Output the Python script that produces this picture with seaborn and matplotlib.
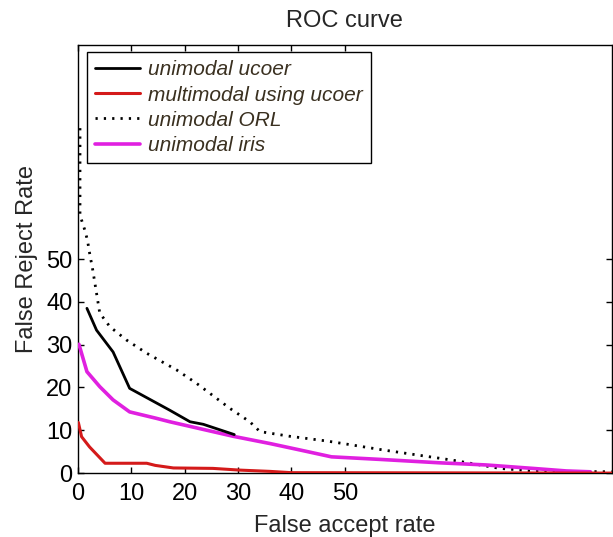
import pandas as pd
import matplotlib
matplotlib.use("Agg")
import matplotlib.pyplot as plt
import seaborn as sns

# Data (x = false accept rate, y = false reject rate)
ucoer_far = [1.7, 3.5, 6.6, 9.7, 17.2, 21.0, 23.5, 29.3]
ucoer_frr = [38.5, 33.4, 28.3, 19.8, 14.7, 12.0, 11.4, 9.0]

multi_far = [0.1, 0.7, 2.2, 5.1, 12.9, 14.5, 17.9, 25.3, 30.3, 36.0, 40.0, 100.0]
multi_frr = [11.8, 8.5, 6.1, 2.3, 2.3, 1.8, 1.2, 1.1, 0.7, 0.4, 0.1, 0.0]

orl_far = [0.4, 0.4, 0.7, 1.3, 1.8, 2.2, 2.8, 4.1, 6.0, 9.1, 12.9, 18.5, 22.2,
           28.5, 32.2, 34.1, 39.7, 46.6, 49.7, 57.2, 70.3, 79.0, 85.3, 100.0]
orl_frr = [80.6, 60.3, 59.1, 56.8, 54.4, 51.4, 47.4, 37.4, 34.2, 31.1, 28.0, 24.1, 21.0,
           15.1, 12.0, 9.7, 8.6, 7.5, 6.9, 5.4, 3.0, 1.1, 0.5, 0.3]

iris_far = [0.2, 1.7, 4.1, 6.6, 9.7, 14.7, 17.2, 22.8, 29.1, 36.0, 41.6, 47.5,
            56.6, 67.8, 76.5, 85.2, 91.5, 96.0]
iris_frr = [30.1, 23.7, 20.2, 17.1, 14.3, 12.8, 12.0, 10.4, 8.6, 6.9, 5.4, 3.8,
            3.2, 2.4, 1.9, 1.1, 0.5, 0.3]

ticks = [0, 10, 20, 30, 40, 50]

sns.set_theme(style="ticks")
plt.rcParams["font.family"] = ["Liberation Sans", "DejaVu Sans"]

fig = plt.figure(figsize=(6.13, 5.37), dpi=100)
ax = fig.add_axes([0.127, 0.119, 0.871, 0.797])

sns.lineplot(x=orl_far, y=orl_frr, ax=ax, color="black", lw=2,
             linestyle=(0, (0.8, 2.2)), sort=False, estimator=None,
             label="unimodal ORL", zorder=2)
sns.lineplot(x=iris_far, y=iris_frr, ax=ax, color="#e020e0", lw=2.6,
             sort=False, estimator=None, label="unimodal iris", zorder=3)
sns.lineplot(x=ucoer_far, y=ucoer_frr, ax=ax, color="black", lw=2,
             sort=False, estimator=None, label="unimodal ucoer", zorder=4)
sns.lineplot(x=multi_far, y=multi_frr, ax=ax, color="#d41a1a", lw=2.2,
             sort=False, estimator=None, label="multimodal using ucoer", zorder=5)

ax.set_xlim(0, 100)
ax.set_ylim(0, 100)
ax.set_xticks(ticks)
ax.set_yticks(ticks)
ax.tick_params(direction="in", top=True, right=True, length=4, width=1,
               labelsize=17, colors="black")
ax.tick_params(axis="x", pad=7)
ax.tick_params(axis="y", pad=4)
for s in ax.spines.values():
    s.set_visible(True)
    s.set_color("black")
    s.set_linewidth(1)

ax.set_title("ROC curve", fontsize=17, pad=13)
ax.set_xlabel("False accept rate", fontsize=17, labelpad=7)
ax.set_ylabel("False Reject Rate", fontsize=17, labelpad=6)

handles, labels = ax.get_legend_handles_labels()
order = [2, 3, 0, 1]
leg = ax.legend([handles[i] for i in order], [labels[i] for i in order],
                loc="upper left", bbox_to_anchor=(0.017, 0.984), borderaxespad=0,
                frameon=True, fancybox=False, framealpha=1, edgecolor="black",
                prop={"style": "italic", "size": 15}, handlelength=2.15,
                handletextpad=0.4, labelspacing=0.3, borderpad=0.4)
leg.get_frame().set_linewidth(1)
for t in leg.get_texts():
    t.set_color("#3a3020")

fig.savefig("out.png", dpi=100)
